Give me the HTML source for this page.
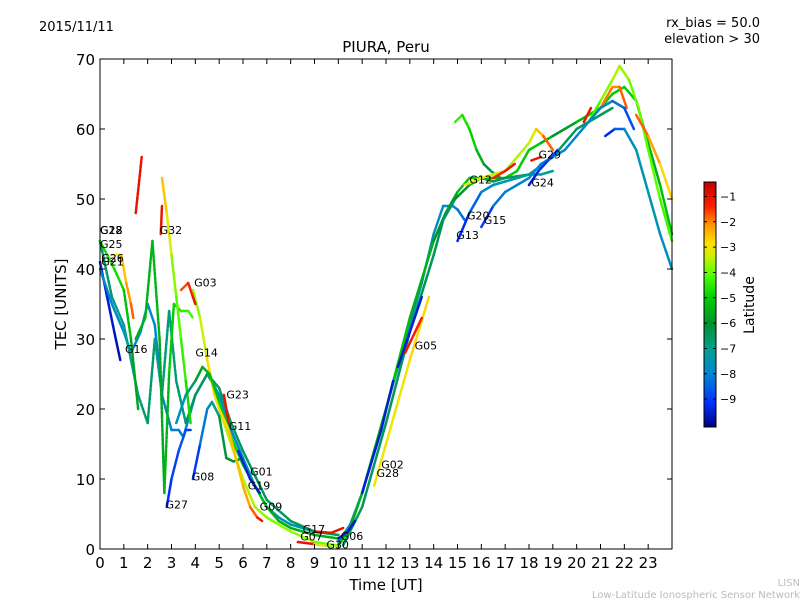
<!DOCTYPE html>
<html><head><meta charset="utf-8"><style>
body{margin:0;background:#fff;}
svg{font-family:"DejaVu Sans","Liberation Sans",sans-serif;}
</style></head><body>
<svg id="chart" width="800" height="600" viewBox="0 0 800 600">
<rect width="800" height="600" fill="#fff"/>
<text x="39" y="31" font-size="13">2015/11/11</text>
<text x="760" y="27" font-size="13" text-anchor="end">rx_bias = 50.0</text>
<text x="760" y="43" font-size="13" text-anchor="end">elevation &gt; 30</text>
<text x="386" y="52" font-size="15" text-anchor="middle">PIURA, Peru</text>
<g id="plot"></g>
<rect x="100" y="59" width="572" height="490" fill="none" stroke="#000" stroke-width="1"/>
<g id="axes"></g>
<text x="386" y="590" font-size="15" text-anchor="middle">Time [UT]</text>
<text x="66" y="304" font-size="15" text-anchor="middle" transform="rotate(-90 66 304)">TEC [UNITS]</text>
<defs><linearGradient id="cmap" x1="0" y1="1" x2="0" y2="0">
<stop offset="0" stop-color="#000080"/><stop offset="0.1" stop-color="#0030ff"/><stop offset="0.22" stop-color="#0088d0"/><stop offset="0.32" stop-color="#00a090"/><stop offset="0.42" stop-color="#009030"/><stop offset="0.53" stop-color="#00d000"/><stop offset="0.62" stop-color="#50ff00"/><stop offset="0.7" stop-color="#d0f000"/><stop offset="0.75" stop-color="#ffe000"/><stop offset="0.83" stop-color="#ff9000"/><stop offset="0.9" stop-color="#ff2000"/><stop offset="1" stop-color="#c00000"/></linearGradient></defs>
<rect x="704" y="182" width="12" height="245" fill="url(#cmap)" stroke="#000" stroke-width="1"/>
<g id="cbticks"></g>
<text x="754" y="305" font-size="14" text-anchor="middle" transform="rotate(-90 754 305)">Latitude</text>
<text x="800" y="586" font-size="10" fill="#bbb" text-anchor="end">LISN</text>
<text x="800" y="598" font-size="10" fill="#bbb" text-anchor="end">Low-Latitude Ionospheric Sensor Network</text>
</svg>
<script>
const xTicks=[0,1,2,3,4,5,6,7,8,9,10,11,12,13,14,15,16,17,18,19,20,21,22,23];
const yTicks=[0,10,20,30,40,50,60,70];
const cbTicks=[-1,-2,-3,-4,-5,-6,-7,-8,-9];
const tracks=[
{t:[0,0.3,0.6,0.85],v:[41,36,31,27],lat:[-9.3,-9.5,-9.6,-9.8]},
{t:[0,0.5,1,1.3,1.7,2,2.3,2.6,3,3.3,3.5,4,4.5,5,5.5,6,6.5,7,7.5,8,9,10],v:[40,35,31,28,31,35,32,22,17,17,16,22,25,22,17,13,9,6,4.5,3.5,2.5,2],lat:[-8,-8,-7.8,-8,-8,-7.8,-8,-8,-8,-8.2,-8,-7.8,-7.8,-7.8,-8,-8,-7.8,-7.5,-7.5,-7.5,-7.5,-7.5]},
{t:[0,0.5,1,1.3,1.6,2,2.3,2.6,2.9,3.2,3.6,4,4.5,5,5.5,6,7,8,9,10],v:[44,36,32,27,22,18,30,22,34,24,18,22,25,23,18,14,7,4,2.5,2],lat:[-6.5,-6.8,-7,-7,-6.8,-6.5,-6.8,-7,-6.5,-7,-6.5,-6.5,-6.5,-6.5,-6.5,-6.5,-6.5,-6.5,-6.5,-6.5],d:1},
{t:[1.5,1.9,2.2,2.5,2.7,2.9,3.1,3.4,3.7,3.9],v:[30,33,44,30,8,25,35,34,34,33],lat:[-5.5,-5.5,-5.3,-5.5,-5.8,-5,-5,-4.5,-4.3,-4.2],d:1},
{t:[0,0.3,0.6,1,1.3,1.6],v:[44,42,40,37,30,20],lat:[-5,-4.5,-4.5,-5,-5.5,-6],d:1},
{t:[2.6,2.8,3,3.2,3.4,3.6,3.8],v:[53,48,42,36,30,24,18],lat:[-2.3,-2.8,-3.5,-4,-4.2,-4.5,-5]},
{t:[3.9,4.2,4.5,4.8,5.1,5.5,6,6.5,7,7.5,8,9,10],v:[37,33,27,22,19,15,10,6,4.5,3.5,2.5,1,0.5],lat:[-3.8,-3.6,-3,-2.5,-3.5,-3.5,-3.5,-3.5,-3.8,-3.8,-3.5,-3.8,-4]},
{t:[3.4,3.7,3.9,4.0],v:[37,38,36,35],lat:[-1.8,-1.5,-1.2,-1]},
{t:[0.5,0.9,1.1,1.3,1.4],v:[42,42,38,35,33],lat:[-3,-2.8,-2.3,-2,-1.5],d:1},
{t:[1.5,1.75],v:[48,56],lat:[-1,-1],d:1},
{t:[2.55,2.6],v:[45,49],lat:[-1.2,-1]},
{t:[3.2,3.6,4,4.3,4.6,5,5.5,6,6.5,7,7.5,8,9,10,10.3],v:[18,22,24,26,25,21,16,12,9,6,4,3,2,1.5,2],lat:[-8,-7.5,-6,-5.5,-5.5,-5,-5,-5,-5,-5.5,-5.5,-5.5,-5.5,-5.5,-5.5]},
{t:[3.9,4.2,4.5,4.7,5,5.3,5.6,6],v:[10,15,20,21,19,13,12.5,13],lat:[-9.5,-8.5,-7.8,-7.5,-6.5,-6,-6,-6]},
{t:[2.8,3,3.3,3.6,3.8],v:[6,10,14,17,17],lat:[-9.3,-9,-8.8,-8.5,-9.5]},
{t:[5.2,5.4],v:[22,18],lat:[-1,-1]},
{t:[5,5.4,5.7,6,6.3,6.6,6.8],v:[20,17,13,9,6,4.5,4],lat:[-3,-2.5,-2.5,-2.5,-2,-1.5,-1]},
{t:[5.8,6.3,6.7],v:[14,10,8],lat:[-9.3,-9.5,-9.5]},
{t:[10,10.5,11,11.5,12,12.5,13,13.5,14,14.4,14.8,15,15.3],v:[1,3.5,8,14,20,26,32,38,45,49,49,48.5,47],lat:[-7.5,-7.5,-7.5,-7.5,-7.5,-7.5,-7.5,-7.5,-7.5,-7.8,-8,-8,-8.5]},
{t:[10,10.5,11,12,13,14,14.5,15,15.5,16,16.5,17,17.5,18,18.5,19,19.5,20,20.5,21,21.5,22,22.5,23,23.5,24],v:[0.5,3,8,20,33,44,48,51,53,53,53,53,54,57,58,59,60,61,62,63,65,66,64,58,52,45],lat:[-5.5,-5.5,-5.5,-5.5,-5,-6,-6,-5.5,-5,-5,-5.5,-5,-5,-5,-5,-6,-6,-5.5,-5,-5,-5,-5,-5,-5.5,-5.5,-5]},
{t:[10.2,11,12,13,14,14.4,14.9,15.5,16,16.5,17,18,19,20,21,21.5],v:[0.5,6,18,31,42,47,50,52,53,52.5,53,53.5,56,60,62,63],lat:[-6.5,-6.5,-6.5,-6.5,-6.3,-6.5,-6.5,-5.5,-5,-6.5,-6.5,-6.5,-6.5,-6.5,-6.5,-6.5]},
{t:[14.9,15.2,15.5,15.8,16.1,16.4,16.8],v:[61,62,60,57,55,54,53],lat:[-4.2,-4.5,-4.8,-5,-6,-6.5,-6.5]},
{t:[15,15.5,16,16.5,17,17.5,18,18.5,19],v:[44,48,51,52,52.5,53,53.5,53.5,54],lat:[-9.5,-9,-8,-7.5,-7.5,-7,-7,-7,-7]},
{t:[16,16.5,17,17.5,18,18.5,19,19.5],v:[46,49,51,52,53,55,56,57],lat:[-9.5,-8.5,-8,-8,-8,-8,-8,-8]},
{t:[18,18.4,18.8,19.2],v:[52,54,55.5,57],lat:[-9.5,-9.3,-9,-8.5]},
{t:[15.3,16,16.5,17,17.5,18,18.3,18.6,19],v:[52,53,53.5,54,56,58,60,59,57],lat:[-3,-3.2,-3,-3.5,-3.5,-3.5,-3,-2,-1.5]},
{t:[16.5,17,17.4],v:[53,54,55],lat:[-1.5,-1.2,-1]},
{t:[18.1,18.5],v:[55.5,56],lat:[-1,-1]},
{t:[20.5,21,21.5,21.8,22.2,22.6,23,23.5,24],v:[61,64,67,69,67,63,57,50,44],lat:[-4.5,-4,-3.5,-3.5,-3.8,-4,-4,-4,-4.5]},
{t:[21,21.5,21.8,22.1],v:[63,66,66,63],lat:[-1.8,-2,-2,-1.5]},
{t:[20.3,20.6],v:[61,63],lat:[-1,-1.2]},
{t:[19.5,20,20.5,21,21.5,22,22.4],v:[57,59,61,63,64,63,60],lat:[-8,-8,-8,-8,-8,-8.5,-9]},
{t:[21.2,21.6,22,22.5,23,23.5,24],v:[59,60,60,57,51,45,40],lat:[-9.5,-9,-8,-7.5,-7.5,-7.5,-8]},
{t:[22.5,23,23.5,24],v:[62,59,55,50],lat:[-1.5,-2,-2.5,-3]},
{t:[11,11.8,12.3],v:[8,17,24],lat:[-9.5,-9.5,-9.5]},
{t:[12.5,13,13.5],v:[26,31,36],lat:[-9.5,-9.5,-9.5]},
{t:[11.5,12,13,13.8],v:[9,15,27,36],lat:[-3,-3,-3,-2.5]},
{t:[12.8,13.5],v:[28,33],lat:[-1.2,-1.2]},
{t:[8.3,9,9.5],v:[1,0.7,0.5],lat:[-1,-1,-1.2]},
{t:[9,9.5,10],v:[0.7,0.5,0.5],lat:[-3,-3.5,-4]},
{t:[9,9.7,10.2],v:[2.5,2.3,3],lat:[-1,-1,-1]},
{t:[10,10.4,10.7],v:[1.5,2.5,4],lat:[-9.5,-9.5,-9.7]}
];
const labelNames=["G18","G22","G28","G25","G26","G21","G16","G32","G03","G14","G23","G11","G01","G19","G08","G27","G09","G17","G07","G30","G06","G02","G28","G05","G13","G20","G15","G12","G24","G29"];
const labelT=[0,0,0,0,0.05,0.05,1.05,2.5,3.95,4,5.3,5.4,6.3,6.2,3.85,2.75,6.7,8.5,8.4,9.5,10.1,11.8,11.6,13.2,14.95,15.4,16.1,15.5,18.1,18.4];
const labelV=[45,45,45,43,41,40.5,28,45,37.5,27.5,21.5,17,10.5,8.5,9.8,5.8,5.5,2.3,1.2,0.1,1.3,11.5,10.3,28.5,44.3,47.1,46.4,52.2,51.8,55.8];
const X=t=>100+t*572/24, Y=v=>549-v*7;
const NS="http://www.w3.org/2000/svg";
const CS=[[0,0,0,128],[0.1,0,48,255],[0.22,0,136,208],[0.32,0,160,144],[0.42,0,144,48],[0.53,0,208,0],[0.62,80,255,0],[0.7,208,240,0],[0.75,255,224,0],[0.83,255,144,0],[0.9,255,32,0],[1,192,0,0]];
function cmap(p){p=Math.max(0,Math.min(1,p));
 for(let i=0;i<CS.length-1;i++){const a=CS[i],b=CS[i+1];if(p<=b[0]){const f=(p-a[0])/(b[0]-a[0]);
  return`rgb(${Math.round(a[1]+(b[1]-a[1])*f)},${Math.round(a[2]+(b[2]-a[2])*f)},${Math.round(a[3]+(b[3]-a[3])*f)})`;}}
 return'rgb(192,0,0)';}
const latC=l=>cmap((l+10.1)/9.7);
const plot=document.getElementById('plot');
tracks.forEach((tr,i)=>{
 for(let k=0;k<tr.t.length-1;k++){
  const ln=document.createElementNS(NS,'line');
  
  
  ln.setAttribute('x1',X(tr.t[k]));ln.setAttribute('y1',Y(tr.v[k]));
  ln.setAttribute('x2',X(tr.t[k+1]));ln.setAttribute('y2',Y(tr.v[k+1]));
  ln.setAttribute('stroke',latC((tr.lat[k]+tr.lat[k+1])/2));
  ln.setAttribute('stroke-width','2.5');ln.setAttribute('stroke-linecap','round');
  if(tr.d)ln.setAttribute('stroke-dasharray','3 1.5');
  plot.appendChild(ln);}
});
labelNames.forEach((n,i)=>{
 const tx=document.createElementNS(NS,'text');
 
 
 tx.setAttribute('x',X(labelT[i]));tx.setAttribute('y',Y(labelV[i]));
 tx.setAttribute('font-size','11');tx.textContent=n;plot.appendChild(tx);});
const ax=document.getElementById('axes');
xTicks.forEach(t=>{
 const l=document.createElementNS(NS,'path');
 
 
 l.setAttribute('d',`M${X(t)},549v-5M${X(t)},59v5`);l.setAttribute('stroke','#000');ax.appendChild(l);
 const tx=document.createElementNS(NS,'text');
 
 
 tx.setAttribute('x',X(t));tx.setAttribute('y',568);tx.setAttribute('font-size','15');tx.setAttribute('text-anchor','middle');tx.textContent=t;ax.appendChild(tx);});
yTicks.forEach(v=>{
 const l=document.createElementNS(NS,'path');
 
 
 l.setAttribute('d',`M100,${Y(v)}h5M672,${Y(v)}h-5`);l.setAttribute('stroke','#000');ax.appendChild(l);
 const tx=document.createElementNS(NS,'text');
 
 
 tx.setAttribute('x',95);tx.setAttribute('y',Y(v)+6);tx.setAttribute('font-size','15');tx.setAttribute('text-anchor','end');tx.textContent=v;ax.appendChild(tx);});
const cb=document.getElementById('cbticks');
cbTicks.forEach(c=>{
 const y=182+(-0.43-c)/9.67*245;
 const l=document.createElementNS(NS,'path');
 
 
 l.setAttribute('d',`M704,${y}h3M716,${y}h-3`);l.setAttribute('stroke','#000');cb.appendChild(l);
 const tx=document.createElementNS(NS,'text');
 
 
 tx.setAttribute('x',720);tx.setAttribute('y',y+4);tx.setAttribute('font-size','11');tx.textContent='\u2212'+Math.abs(c);cb.appendChild(tx);});
</script>
</body></html>
